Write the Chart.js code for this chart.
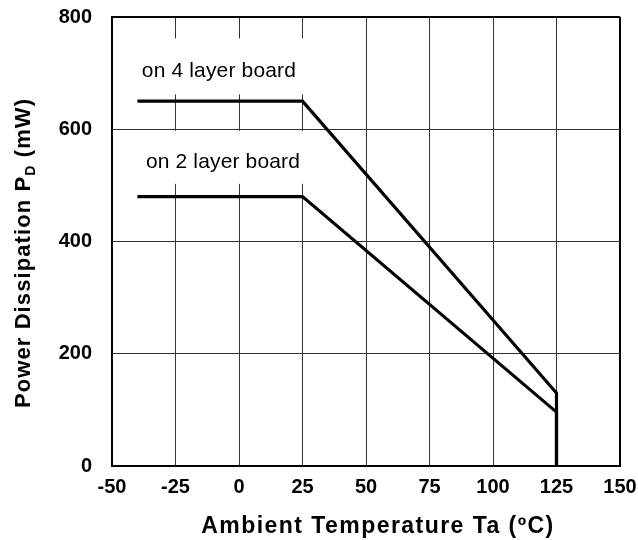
<!DOCTYPE html>
<html>
<head>
<meta charset="utf-8">
<script src="https://cdn.jsdelivr.net/npm/chart.js@4/dist/chart.umd.min.js"></script>
<style>
  html, body { margin: 0; padding: 0; background: #fff; }
  #wrap { width: 638px; height: 540px; position: relative; }
</style>
</head>
<body>
<div id="wrap"><canvas id="c" width="638" height="540"></canvas></div>
<script>
// ---- data ----
const temps = [-40, 25, 125, 125];
const board4 = [650, 650, 130, 0];
const board2 = [480, 480, 96, 0];
const seriesLabels = ['on 4 layer board', 'on 2 layer board'];
const xTicks = [-50, -25, 0, 25, 50, 75, 100, 125, 150];
const yTicks = [0, 200, 400, 600, 800];
const xTitle = 'Ambient Temperature Ta (ºC)';
const yTitleMain = 'Power Dissipation P';
const yTitleSub = 'D';
const yTitleEnd = ' (mW)';

const FONT = '"Liberation Sans", Arial, Helvetica, sans-serif';

// label anchor positions (data coordinates of box centre)
const labelAnchors = [
  { x: -7.9, y: 712, w: 178, h: 56 },
  { x: -6.3, y: 550, w: 174, h: 53 }
];

const toXY = (xs, ys) => xs.map((x, i) => ({ x: x, y: ys[i] }));

const labelPlugin = {
  id: 'boxLabels',
  beforeDatasetsDraw(chart) {
    const ctx = chart.ctx;
    const xs = chart.scales.x, ys = chart.scales.y;
    ctx.save();
    labelAnchors.forEach((a, i) => {
      const cx = xs.getPixelForValue(a.x);
      const cy = ys.getPixelForValue(a.y);
      ctx.fillStyle = '#ffffff';
      ctx.fillRect(cx - a.w / 2, cy - a.h / 2, a.w, a.h);
      ctx.fillStyle = '#000000';
      ctx.font = '21px ' + FONT;
      try { ctx.letterSpacing = '0.15px'; } catch (e) {}
      ctx.textAlign = 'center';
      ctx.textBaseline = 'alphabetic';
      ctx.fillText(seriesLabels[i], cx, cy + 11);
    });
    ctx.restore();
  }
};

const titlePlugin = {
  id: 'axisTitles',
  afterDraw(chart) {
    const ctx = chart.ctx;
    ctx.save();
    ctx.fillStyle = '#000';
    // x title
    ctx.font = 'bold 23px ' + FONT;
    try { ctx.letterSpacing = '1.45px'; } catch (e) {}
    ctx.textAlign = 'center';
    ctx.textBaseline = 'alphabetic';
    ctx.fillText(xTitle, 378, 533);
    // y title (rotated, with subscript)
    ctx.translate(30, 253);
    ctx.rotate(-Math.PI / 2);
    const fMain = 'bold 22px ' + FONT;
    const fSub = 'bold 14px ' + FONT;
    try { ctx.letterSpacing = '1.1px'; } catch (e) {}
    ctx.font = fMain;
    const w1 = ctx.measureText(yTitleMain).width;
    const w3 = ctx.measureText(yTitleEnd).width;
    ctx.font = fSub;
    const w2 = ctx.measureText(yTitleSub).width;
    const total = w1 + w2 + w3;
    let x0 = -total / 2;
    ctx.textAlign = 'left';
    ctx.font = fMain;
    ctx.fillText(yTitleMain, x0, 0);
    ctx.font = fSub;
    ctx.fillText(yTitleSub, x0 + w1, 5);
    ctx.font = fMain;
    ctx.fillText(yTitleEnd, x0 + w1 + w2, 0);
    ctx.restore();
  }
};

new Chart(document.getElementById('c'), {
  type: 'line',
  data: {
    datasets: [
      { label: seriesLabels[0], data: toXY(temps, board4) },
      { label: seriesLabels[1], data: toXY(temps, board2) }
    ]
  },
  options: {
    responsive: false,
    animation: false,
    layout: { padding: { top: 17, right: 18, left: 0, bottom: 0 } },
    elements: {
      line: { borderColor: '#000', borderWidth: 3.2, tension: 0, borderCapStyle: 'butt', borderJoinStyle: 'miter' },
      point: { radius: 0, hoverRadius: 0 }
    },
    plugins: { legend: { display: false }, tooltip: { enabled: false } },
    scales: {
      x: {
        type: 'linear',
        min: -50, max: 150,
        afterBuildTicks: s => { s.ticks = xTicks.map(v => ({ value: v })); },
        afterFit: s => { s.height = 74; s.paddingLeft = 0; s.paddingRight = 0; s.paddingTop = 0; s.paddingBottom = 0; },
        ticks: { color: '#000', font: { family: FONT, size: 20, weight: 'bold' }, padding: 9, maxRotation: 0, autoSkip: false },
        grid: {
          drawTicks: false,
          color: c => (c.tick && c.tick.value === 150) ? '#000' : '#333',
          lineWidth: c => (c.tick && c.tick.value === 150) ? 2 : 1
        },
        border: { color: '#000', width: 2 },
        title: { display: false }
      },
      y: {
        type: 'linear',
        min: 0, max: 800,
        afterBuildTicks: s => { s.ticks = yTicks.map(v => ({ value: v })); },
        afterFit: s => { s.width = 112; s.paddingLeft = 0; s.paddingRight = 0; s.paddingTop = 0; s.paddingBottom = 0; },
        ticks: { color: '#000', font: { family: FONT, size: 20, weight: 'bold' }, padding: 20 },
        grid: {
          drawTicks: false,
          color: c => (c.tick && c.tick.value === 800) ? '#000' : '#333',
          lineWidth: c => (c.tick && c.tick.value === 800) ? 2 : 1
        },
        border: { color: '#000', width: 2 },
        title: { display: false }
      }
    }
  },
  plugins: [labelPlugin, titlePlugin]
});
</script>
</body>
</html>
